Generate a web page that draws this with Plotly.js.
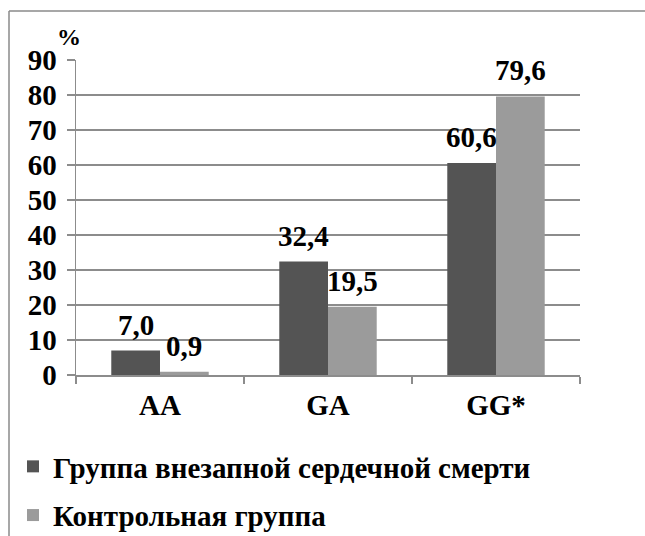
<!DOCTYPE html>
<html>
<head>
<meta charset="utf-8">
<script src="https://cdn.plot.ly/plotly-3.0.1.min.js"></script>
<style>
  html, body { margin: 0; padding: 0; background: #ffffff; }
  #wrap { position: relative; width: 645px; height: 536px; }
  #chart { width: 645px; height: 536px; }
  #chart svg text { font-family: 'Liberation Serif', 'Times New Roman', serif !important; }
  #unit {
    position: absolute; left: 49px; top: 25px; width: 40px; z-index: 5;
    text-align: center; font-family: 'Liberation Serif', 'Times New Roman', serif;
    font-weight: bold; font-size: 24px; line-height: 24px; color: #000000;
  }
</style>
</head>
<body>
<div id="wrap">
  <div id="unit">%</div>
  <div id="chart"></div>
</div>
<script>
// Genotype categories and the share (%) of each group
const genotypes = ['AA', 'GA', 'GG*'];
const suddenDeath = [7.0, 32.4, 60.6];
const control = [0.9, 19.5, 79.6];
const seriesNames = ['Группа внезапной сердечной смерти', 'Контрольная группа'];
const yTicks = [0, 10, 20, 30, 40, 50, 60, 70, 80, 90];

const W = 645, H = 536;
const M = { l: 76, r: 65, t: 60, b: 161, pad: 0, autoexpand: false };
const plotW = W - M.l - M.r, plotH = H - M.t - M.b;
// pixel -> paper helpers (paper spans the plot area)
const px = x => (x - M.l) / plotW;
const py = y => 1 - (y - M.t) / plotH;

const FAMILY = 'Liberation Serif';
const boldFont = (size) => ({ family: FAMILY, size: size, color: '#000000', weight: 'bold' });

const fmt = v => v.toFixed(1).replace('.', ',');

const traces = [
  {
    type: 'bar', name: seriesNames[0], x: genotypes, y: suddenDeath,
    marker: { color: '#545454' }, legendgroup: 'a', hoverinfo: 'skip'
  },
  {
    type: 'bar', name: seriesNames[1], x: genotypes, y: control,
    marker: { color: '#9b9b9b' }, legendgroup: 'b', hoverinfo: 'skip'
  }
];

// value labels above each bar
const halfBar = 24.3;
const annotations = [];
genotypes.forEach((g, i) => {
  annotations.push({ x: g, y: suddenDeath[i], xref: 'x', yref: 'y', text: fmt(suddenDeath[i]),
    showarrow: false, xshift: -halfBar, yanchor: 'bottom', yshift: 8, font: boldFont(29) });
  annotations.push({ x: g, y: control[i], xref: 'x', yref: 'y', text: fmt(control[i]),
    showarrow: false, xshift: halfBar, yanchor: 'bottom', yshift: 8, font: boldFont(29) });
});

const frame = { color: '#8a8a8a', width: 1.5 };

const layout = {
  width: W, height: H,
  margin: M,
  font: boldFont(29),
  paper_bgcolor: '#ffffff', plot_bgcolor: '#ffffff',
  barmode: 'group', bargap: 0.42, bargroupgap: 0,
  showlegend: true,
  legend: {
    x: px(13), y: py(441), xanchor: 'left', yanchor: 'top',
    orientation: 'v', traceorder: 'grouped', tracegroupgap: 8,
    font: boldFont(29), bgcolor: 'rgba(0,0,0,0)'
  },
  xaxis: {
    type: 'category', tickson: 'boundaries', ticks: 'outside', ticklen: 7,
    tickcolor: '#8c8c8c', tickwidth: 1.5,
    showline: true, linecolor: '#8c8c8c', linewidth: 1.5,
    showgrid: false, tickfont: boldFont(29), ticklabelstandoff: 4,
    fixedrange: true, automargin: false
  },
  yaxis: {
    range: [0, 90], tickvals: yTicks, ticktext: yTicks.map(String),
    ticks: 'outside', ticklen: 8, tickcolor: '#8c8c8c', tickwidth: 1.5,
    showline: true, linecolor: '#8c8c8c', linewidth: 1.5,
    showgrid: true, gridcolor: '#8c8c8c', gridwidth: 1.5,
    zeroline: false, tickfont: boldFont(29), ticklabelstandoff: 4,
    fixedrange: true, automargin: false
  },
  shapes: [
    // outer chart frame: left and top edges only
    { type: 'line', xref: 'paper', yref: 'paper',
      x0: px(9), x1: px(9), y0: py(H + 5), y1: py(11), line: frame, layer: 'below' },
    { type: 'line', xref: 'paper', yref: 'paper',
      x0: px(9), x1: px(W + 5), y0: py(11), y1: py(11), line: frame, layer: 'below' }
  ],
  annotations: annotations
};

Plotly.newPlot('chart', traces, layout, { displayModeBar: false, staticPlot: true });
</script>
</body>
</html>
